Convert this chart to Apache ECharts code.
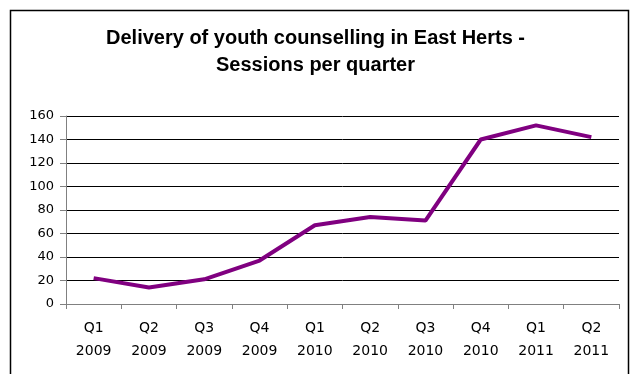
<!DOCTYPE html>
<html>
<head>
<meta charset="utf-8">
<script src="https://cdn.jsdelivr.net/npm/echarts@6/dist/echarts.min.js"></script>
<style>
  html, body { margin: 0; padding: 0; background: #fff; }
  #chart { width: 631px; height: 374px; }
</style>
</head>
<body>
<div id="chart"></div>
<script>
// Quarterly counselling sessions delivered
const quarters = ['Q1\n2009', 'Q2\n2009', 'Q3\n2009', 'Q4\n2009', 'Q1\n2010',
                  'Q2\n2010', 'Q3\n2010', 'Q4\n2010', 'Q1\n2011', 'Q2\n2011'];
const sessions = [22, 14, 21, 37, 67, 74, 71, 140, 152, 142];
const yTicks = { min: 0, max: 160, step: 20 };

const chart = echarts.init(document.getElementById('chart'), null, { renderer: 'canvas' });
const titleFont = 'Arial, "Liberation Sans", sans-serif';
const labelFont = '"DejaVu Sans", sans-serif';

chart.setOption({
  animation: false,
  backgroundColor: '#fff',
  graphic: [{
    type: 'rect',
    shape: { x: 10.5, y: 10.5, width: 618, height: 380 },
    style: { fill: 'none', stroke: '#000', lineWidth: 1.5 },
    silent: true
  }],
  title: {
    text: 'Delivery of youth counselling in East Herts -\nSessions per quarter',
    left: 'center',
    top: 20,
    textStyle: { fontFamily: titleFont, fontSize: 20, fontWeight: 'bold', color: '#000', lineHeight: 27 }
  },
  grid: { left: 66, right: 12, top: 116, bottom: 70, containLabel: false },
  xAxis: {
    type: 'category',
    data: quarters,
    boundaryGap: true,
    axisLine: { lineStyle: { color: '#808080', width: 1 } },
    axisTick: { show: true, length: 5, lineStyle: { color: '#808080' } },
    axisLabel: { color: '#000', fontFamily: labelFont, fontSize: 14, lineHeight: 23, margin: 13, interval: 0 },
    splitLine: { show: false }
  },
  yAxis: {
    type: 'value',
    min: yTicks.min,
    max: yTicks.max,
    interval: yTicks.step,
    axisLine: { show: true, lineStyle: { color: '#808080', width: 1 } },
    axisTick: { show: true, length: 6, lineStyle: { color: '#808080' } },
    axisLabel: { color: '#000', fontFamily: labelFont, fontSize: 13, margin: 12 },
    splitLine: { show: true, lineStyle: { color: '#000', width: 1 } }
  },
  series: [{
    type: 'line',
    data: sessions,
    symbol: 'none',
    lineStyle: { color: '#800080', width: 4 },
    itemStyle: { color: '#800080' }
  }]
});
</script>
</body>
</html>
